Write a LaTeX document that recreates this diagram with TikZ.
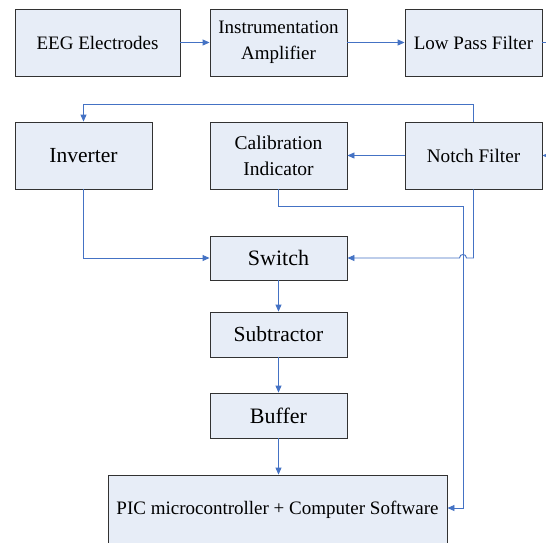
\documentclass[tikz,border=0pt]{standalone}
\usepackage{fontspec}
\setmainfont{Liberation Serif}
\usetikzlibrary{arrows.meta}
\definecolor{boxfill}{RGB}{231,237,247}
\definecolor{boxline}{RGB}{50,50,50}
\definecolor{arrcol}{RGB}{68,114,196}
\tikzset{
  blk/.style={draw=boxline, line width=0.9pt, fill=boxfill, inner sep=0pt, align=center, minimum width=137pt},
  conn/.style={draw=arrcol, line width=0.9pt},
  arr/.style={conn, -{Triangle[length=7pt,width=6pt]}},
  fs/.style={font=\fontsize{#1}{26}\selectfont}
}
\begin{document}
\begin{tikzpicture}[x=1pt,y=-1pt]
\useasboundingbox (0,0) rectangle (546,542);
\clip (0,0) rectangle (546,542);
\fill[white] (0,0) rectangle (546,542);
% nodes
\node[blk, fs=19, minimum width=165pt, minimum height=67pt] (eeg) at (97.5,42.5) {EEG Electrodes};
\node[blk, fs=19, minimum height=67pt] (amp) at (278.5,42.5) {Instrumentation\\Amplifier};
\node[blk, fs=19, minimum height=67pt] (lpf) at (473.5,42.5) {Low Pass Filter};
\node[blk, fs=21.5, minimum height=67pt] (inv) at (83.5,155.5) {Inverter};
\node[blk, fs=19.5, minimum height=67pt] (cal) at (278.5,155.5) {Calibration\\Indicator};
\node[blk, fs=19.2, minimum height=67pt] (notch) at (473.5,155.5) {Notch Filter};
\node[blk, fs=22, minimum height=44pt] (sw) at (278.5,258) {Switch};
\node[blk, fs=21.5, minimum height=45pt] (sub) at (278.5,334.5) {Subtractor};
\node[blk, fs=22, minimum height=45pt] (buf) at (278.5,415.5) {Buffer};
\node[blk, fs=19, minimum width=339pt, minimum height=70pt] (pic) at (277.5,510) {\raisebox{2pt}{PIC microcontroller + Computer Software}};
\coordinate (lpfout) at (560,42.5);
\coordinate (notchin) at (560,155.5);
% connectors
\draw[arr] (eeg.east) -- (amp.west);
\draw[arr] (amp.east) -- (lpf.west);
\draw[conn] (lpf.east) -- (lpfout);
\draw[arr] (notchin) -- (notch.east);
\draw[arr] (notch.north) -- ++(0,-17) -| (inv.north);
\draw[arr] (notch.west) -- (cal.east);
\draw[arr] (cal.south) -- ++(0,17) -| (463,508) -- ([yshift=2pt]pic.east);
\draw[arr] (inv.south) |- (sw.west);
\draw[arr] (notch.south) |- (466.5,258) .. controls (466.5,253.3) and (459.5,253.3) .. (459.5,258) -- (sw.east);
\draw[arr] (sw.south) -- (sub.north);
\draw[arr] (sub.south) -- (buf.north);
\draw[arr] (buf.south) -- (buf.south |- pic.north);
\end{tikzpicture}
\end{document}
